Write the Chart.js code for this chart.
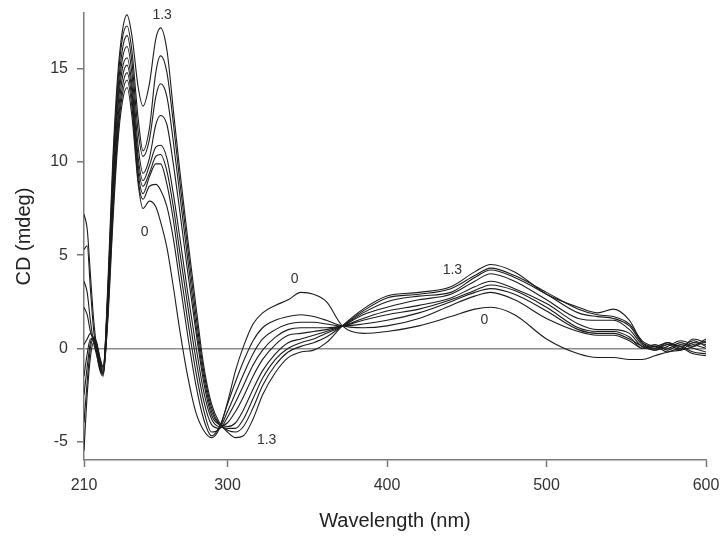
<!DOCTYPE html>
<html>
<head>
<meta charset="utf-8">
<script src="https://cdn.jsdelivr.net/npm/chart.js@4.4.1/dist/chart.umd.min.js"></script>
<style>
html,body{margin:0;padding:0;background:#fff;}
#wrap{width:721px;height:538px;}
</style>
</head>
<body>
<div id="wrap"><canvas id="c" width="721" height="538"></canvas></div>
<script>
// Wavelengths (nm)
const wavelengths = [210,212,214,216,218,220,222,225,228,231,234,237,240,244,247,251,255,258,262,266,270,275,280,285,290,295,300,305,310,316,322,330,338,346,354,362,372,385,400,420,440,455,465,480,500,520,532,542,552,560,568,576,584,592,600];

// CD (mdeg) for each titration step, from "0" to "1.3"
const cd_0 = [7.2,6.4,4.0,1.6,0.0,-1.0,-1.3,1.6,6.6,10.8,13.2,14.0,12.5,8.8,7.5,7.9,7.6,6.8,5.4,3.3,1.0,-1.5,-3.4,-4.4,-4.8,-4.3,-2.9,-1.2,0.1,1.3,1.9,2.3,2.6,3.0,2.9,2.5,1.2,0.8,0.9,1.2,1.7,2.1,2.2,1.8,0.5,-0.3,-0.5,-0.5,-0.6,-0.6,-0.4,-0.2,-0.1,0.1,0.5];
const cd_1 = [5.3,5.5,3.2,1.0,-0.3,-1.2,-1.5,1.8,7.0,11.2,13.6,14.4,13.0,9.0,8.0,8.7,8.8,8.5,7.6,5.9,3.6,0.7,-1.9,-3.8,-4.7,-4.2,-3.0,-1.8,-0.7,0.4,1.1,1.5,1.7,1.8,1.7,1.5,1.2,1.1,1.2,1.6,2.3,2.8,3.0,2.6,1.6,0.9,0.7,0.7,0.4,0.0,0.1,-0.2,0.0,-0.3,-0.4];
const cd_2 = [3.6,3.0,1.5,0.3,-0.4,-1.1,-1.4,2.0,7.4,11.6,14.0,14.8,13.4,9.4,8.3,9.2,9.9,9.9,8.8,6.9,4.4,1.5,-1.2,-3.3,-4.5,-4.3,-3.4,-2.4,-1.4,-0.3,0.5,1.0,1.3,1.4,1.4,1.3,1.2,1.3,1.5,1.9,2.5,3.0,3.2,2.9,2.0,1.0,0.8,0.8,0.5,0.1,-0.1,0.2,0.1,-0.2,-0.3];
const cd_3 = [2.2,1.8,0.9,0.4,-0.2,-1.0,-1.4,2.3,7.8,12.0,14.5,15.2,13.8,9.8,8.7,9.4,10.3,10.4,9.5,7.6,5.2,2.3,-0.5,-2.8,-4.1,-4.3,-3.7,-2.9,-2.0,-0.9,-0.1,0.6,1.0,1.1,1.1,1.1,1.2,1.5,1.8,2.1,2.6,3.1,3.4,3.1,2.2,1.1,0.9,0.9,0.6,0.0,0.2,-0.1,0.2,0.0,-0.2];
const cd_4 = [0.2,0.5,0.8,0.5,0.0,-0.8,-1.3,2.5,8.2,12.6,15.0,15.6,14.2,10.2,9.0,9.8,10.8,10.9,10.2,8.3,6.0,3.0,0.2,-2.3,-3.8,-4.2,-4.0,-3.4,-2.6,-1.5,-0.6,0.2,0.7,0.8,0.9,1.0,1.2,1.6,2.0,2.3,2.7,3.3,3.6,3.2,2.4,1.3,1.0,1.0,0.8,0.1,0.0,0.3,0.0,0.5,0.3];
const cd_5 = [-1.5,-0.3,0.5,0.5,0.2,-0.6,-1.1,2.8,8.6,13.0,15.5,16.2,14.8,10.8,9.4,10.2,12.0,12.5,12.0,9.9,7.4,4.1,1.0,-1.8,-3.6,-4.1,-4.2,-4.0,-3.3,-2.2,-1.2,-0.3,0.3,0.5,0.7,0.9,1.2,1.8,2.2,2.6,2.9,3.6,4.0,3.6,2.6,1.6,1.5,1.5,1.0,0.2,-0.1,0.1,0.4,0.2,0.0];
const cd_6 = [-2.5,-1.0,0.3,0.6,0.3,-0.5,-1.0,3.0,9.0,13.5,16.0,16.8,15.4,11.6,10.3,11.2,13.5,14.2,13.5,11.1,8.3,4.8,1.4,-1.5,-3.4,-4.1,-4.3,-4.3,-3.8,-2.7,-1.6,-0.6,0.0,0.3,0.5,0.8,1.2,1.9,2.5,2.8,3.0,3.8,4.2,3.8,2.9,1.9,1.7,1.6,1.2,0.3,0.1,0.3,0.1,0.4,0.1];
const cd_7 = [-4.0,-1.8,0.0,0.5,0.2,-0.6,-1.0,3.2,9.5,14.0,16.6,17.3,16.0,12.3,10.6,11.8,14.8,15.7,14.8,12.1,9.0,5.4,1.9,-1.2,-3.2,-4.1,-4.4,-4.5,-4.2,-3.2,-2.0,-0.9,-0.2,0.1,0.3,0.6,1.2,2.0,2.7,2.9,3.2,3.9,4.3,3.9,3.0,2.1,1.8,1.7,1.3,0.4,0.1,0.0,0.3,0.1,0.4];
const cd_8 = [-5.5,-2.5,-0.5,0.3,0.0,-0.8,-1.2,3.5,10.0,14.5,17.0,17.9,16.8,14.0,13.0,14.2,16.6,17.2,16.0,12.8,9.6,5.9,2.4,-0.9,-3.0,-4.0,-4.5,-4.8,-4.7,-3.8,-2.5,-1.3,-0.5,-0.2,-0.1,0.3,1.2,2.1,2.8,3.0,3.3,4.1,4.5,4.1,2.9,2.2,1.9,2.1,1.5,0.3,0.0,0.2,-0.1,0.3,0.2];

const seriesList = [cd_0, cd_1, cd_2, cd_3, cd_4, cd_5, cd_6, cd_7, cd_8];

// Tick labels
const xTicks = [210, 300, 400, 500, 600];
const yTicks = [-5, 0, 5, 10, 15];

// Curve annotations (text, wavelength, CD)
const noteText = ["1.3", "0", "0", "1.3", "1.3", "0"];
const noteX = [259, 248, 342, 324.5, 441, 461];
const noteY = [17.9, 6.25, 3.7, -4.95, 4.2, 1.5];

const datasets = seriesList.map((vals, i) => ({
  label: 'c' + i,
  data: wavelengths.map((w, k) => ({x: w, y: vals[k]})),
  borderColor: '#1c1c1c',
  borderWidth: 1.1,
  pointRadius: 0,
  fill: false,
  cubicInterpolationMode: 'monotone'
}));

const bgPlugin = {
  id: 'bg',
  beforeDraw(chart) {
    const ctx = chart.ctx;
    ctx.save();
    ctx.fillStyle = '#ffffff';
    ctx.fillRect(0, 0, chart.width, chart.height);
    ctx.restore();
  }
};

const notePlugin = {
  id: 'notes',
  afterDatasetsDraw(chart) {
    const ctx = chart.ctx;
    const xs = chart.scales.x, ys = chart.scales.y;
    ctx.save();
    ctx.fillStyle = '#333333';
    ctx.font = '14px "Liberation Sans", Arial, sans-serif';
    ctx.textAlign = 'center';
    ctx.textBaseline = 'middle';
    noteText.forEach((t, i) => {
      ctx.fillText(t, xs.getPixelForValue(noteX[i]), ys.getPixelForValue(noteY[i]));
    });
    ctx.restore();
  }
};

new Chart(document.getElementById('c'), {
  type: 'line',
  data: { datasets },
  plugins: [bgPlugin, notePlugin],
  options: {
    responsive: false,
    animation: false,
    events: [],
    layout: { padding: { top: 13, right: 15, left: 0, bottom: 0 } },
    plugins: { legend: { display: false }, tooltip: { enabled: false } },
    scales: {
      x: {
        type: 'linear',
        min: 210,
        max: 600,
        afterBuildTicks: (s) => { s.ticks = xTicks.map(v => ({value: v})); },
        afterFit: (s) => { s.height = 78; s.paddingLeft = 0; s.paddingRight = 0; },
        grid: { drawOnChartArea: false, drawTicks: true, tickLength: 7, tickColor: '#777', tickWidth: 1.5 },
        border: { display: true, color: '#7a7a7a', width: 1.5 },
        ticks: { color: '#333', font: { size: 16, family: '"Liberation Sans", Arial, sans-serif' }, padding: 9, maxRotation: 0, autoSkip: false },
        title: { display: true, text: 'Wavelength (nm)', color: '#222', font: { size: 20, family: '"Liberation Sans", Arial, sans-serif' }, padding: { top: 4, bottom: 5 } }
      },
      y: {
        type: 'linear',
        min: -6,
        max: 18,
        afterBuildTicks: (s) => { s.ticks = yTicks.map(v => ({value: v})); },
        afterFit: (s) => { s.width = 84; s.paddingTop = 0; s.paddingBottom = 0; },
        grid: {
          drawOnChartArea: true,
          color: (c) => (c.tick && c.tick.value === 0) ? '#8c8c8c' : 'rgba(0,0,0,0)',
          lineWidth: 1.5,
          drawTicks: true, tickLength: 7, tickColor: '#777', tickWidth: 1.5
        },
        border: { display: true, color: '#7a7a7a', width: 1.5 },
        ticks: { color: '#333', font: { size: 16, family: '"Liberation Sans", Arial, sans-serif' }, padding: 9 },
        title: { display: true, text: 'CD (mdeg)', color: '#222', font: { size: 20, family: '"Liberation Sans", Arial, sans-serif' }, padding: { top: 12, bottom: 4 } }
      }
    }
  }
});
</script>
</body>
</html>
